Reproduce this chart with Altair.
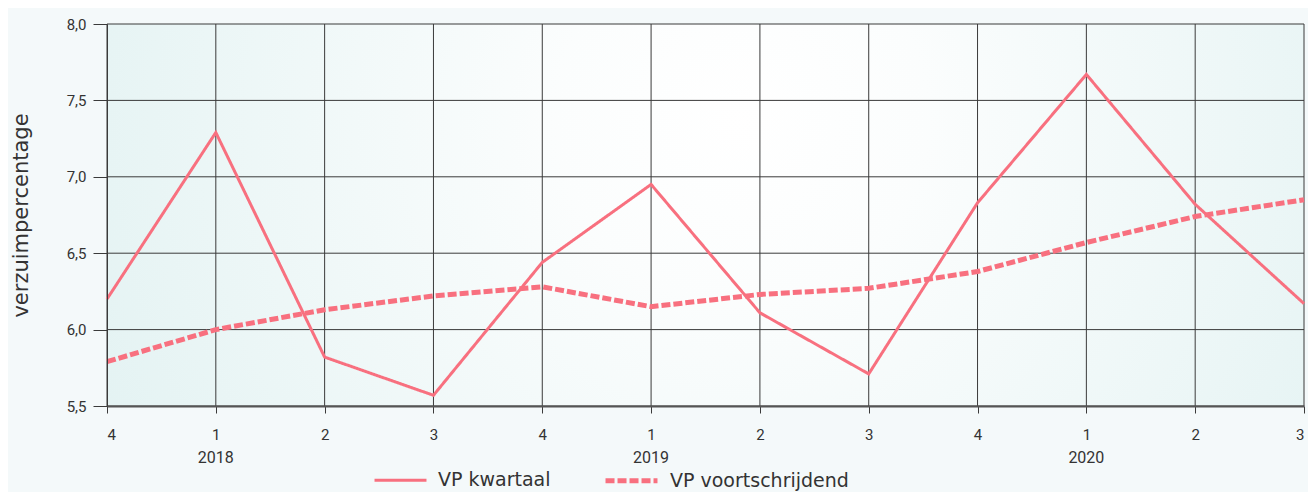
import json
import altair as alt
import pandas as pd

# ---- data ----
quarters = ["4", "1", "2", "3", "4", "1", "2", "3", "4", "1", "2", "3"]
years = ["2018", "2019", "2020"]
year_positions = [1, 5, 9]
vp_kwartaal = [6.20, 7.29, 5.82, 5.57, 6.44, 6.95, 6.11, 5.71, 6.83, 7.67, 6.82, 6.17]
vp_voortschrijdend = [5.79, 6.00, 6.13, 6.22, 6.28, 6.15, 6.23, 6.27, 6.38, 6.57, 6.74, 6.85]
series_names = ["VP kwartaal", "VP voortschrijdend"]
y_ticks = [5.5, 6.0, 6.5, 7.0, 7.5, 8.0]

W, H = 1197, 382
PINK = "#f8707f"
TXT = "#333333"
GRID = "#3a3a3a"

rows = []
for i, v in enumerate(vp_kwartaal):
    rows.append({"idx": i, "value": v, "series": series_names[0]})
for i, v in enumerate(vp_voortschrijdend):
    rows.append({"idx": i, "value": v, "series": series_names[1]})
df = pd.DataFrame(rows)

xscale = alt.Scale(domain=[0, len(quarters) - 1], nice=False, zero=False)
yscale = alt.Scale(domain=[5.5, 8.0], nice=False, zero=False)

label_expr = json.dumps(quarters) + "[datum.value]"

bg = alt.Chart(alt.Data(values=[{"a": 1}])).mark_rect(
    color=alt.RadialGradient(
        gradient="radial",
        stops=[
            alt.GradientStop(offset=0, color="#ffffff"),
            alt.GradientStop(offset=0.25, color="#fbfdfd"),
            alt.GradientStop(offset=1, color="#e2f2f2"),
        ],
        x1=0.53, y1=0.42, x2=0.53, y2=0.42, r1=0, r2=0.62,
    )
).encode(x=alt.value(0), x2=alt.value(W), y=alt.value(0), y2=alt.value(H))

vgrid = alt.Chart(pd.DataFrame({"idx": list(range(len(quarters)))})).mark_rule(
    color=GRID, strokeWidth=1
).encode(
    x=alt.X("idx:Q", scale=xscale,
            axis=alt.Axis(values=list(range(len(quarters))), labelExpr=label_expr,
                          grid=False, title=None, tickSize=7, tickColor=GRID,
                          labelPadding=14, labelFontSize=15, labelColor=TXT,
                          labelFont="Roboto", domainColor="#555555", domainWidth=2,
                          zindex=1))
)

hgrid = alt.Chart(pd.DataFrame({"value": y_ticks})).mark_rule(
    color=GRID, strokeWidth=1
).encode(
    y=alt.Y("value:Q", scale=yscale,
            axis=alt.Axis(values=y_ticks,
                          labelExpr="replace(format(datum.value, '.1f'), '.', ',')",
                          grid=False, tickSize=14, tickColor=GRID, labelPadding=7,
                          labelFontSize=15, labelColor=TXT, labelFont="Roboto",
                          domainColor=GRID, domainWidth=1,
                          title="verzuimpercentage", titleFont="DejaVu Sans",
                          titleFontSize=21, titleFontWeight="normal",
                          titleColor=TXT, titlePadding=35, zindex=1))
)

legend = alt.Legend(
    title=None, orient="none", legendX=266, legendY=428, direction="horizontal",
    symbolType="stroke", symbolSize=2700, symbolStrokeWidth=3,
    labelFontSize=19, labelFont="DejaVu Sans", labelColor=TXT, labelLimit=400,
    labelOffset=10, columnPadding=44,
)

lines = alt.Chart(df).mark_line().encode(
    x=alt.X("idx:Q", scale=xscale),
    y=alt.Y("value:Q", scale=yscale),
    color=alt.Color("series:N", scale=alt.Scale(domain=series_names, range=[PINK, PINK]),
                    legend=legend),
    strokeDash=alt.StrokeDash("series:N",
                              scale=alt.Scale(domain=series_names, range=[[1, 0], [9, 3]]),
                              legend=legend),
    strokeWidth=alt.StrokeWidth("series:N",
                                scale=alt.Scale(domain=series_names, range=[3, 5]),
                                legend=None),
)

year_text = alt.Chart(pd.DataFrame({"idx": year_positions, "year": years})).mark_text(
    fontSize=16, font="Roboto", color=TXT, baseline="middle", align="center"
).encode(
    x=alt.X("idx:Q", scale=xscale),
    y=alt.value(H + 52),
    text="year:N",
)

chart = alt.layer(bg, vgrid, hgrid, lines, year_text).properties(
    width=W, height=H,
    autosize=alt.AutoSizeParams(type="none"),
    padding={"left": 99, "top": 16, "right": 4, "bottom": 86},
    background="#f4f9fa",
).configure_view(stroke=None)

chart.save("out.html", embed_options={"renderer": "svg", "actions": False})
